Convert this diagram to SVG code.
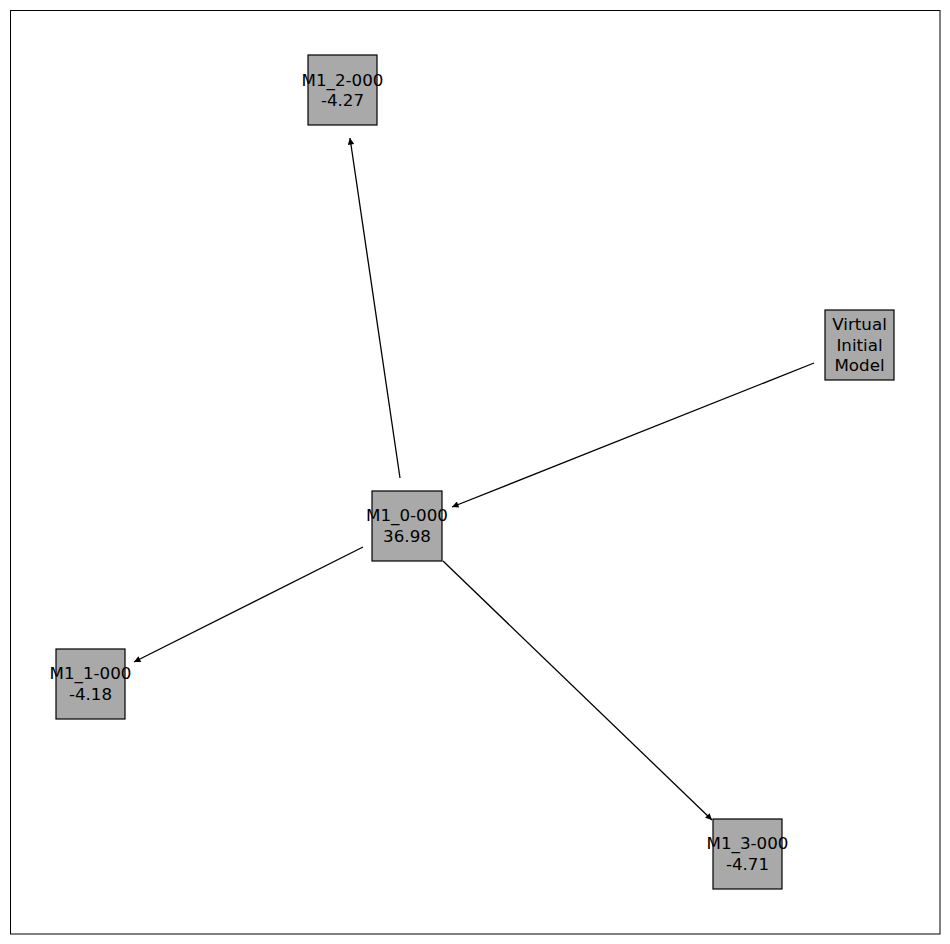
<svg xmlns="http://www.w3.org/2000/svg" width="950" height="944" viewBox="0 0 950 944">
<style>
.node rect{fill:#a9a9a9;stroke:#000;stroke-width:1.2}
.node text{font-family:"DejaVu Sans",sans-serif;font-size:16.7px;fill:#000;text-anchor:middle;dominant-baseline:central}
.edge{stroke:#000;stroke-width:1.3;fill:none;marker-end:url(#arr)}
</style>
<defs>
<marker id="arr" viewBox="0 0 10 10" refX="10" refY="5" markerWidth="9" markerHeight="6.5" markerUnits="userSpaceOnUse" orient="auto">
<path d="M0,0 L10,5 L0,10 z" fill="#000"/>
</marker>
</defs>
<rect x="0" y="0" width="950" height="944" fill="#fff"/>
<rect x="10.5" y="10.5" width="929.5" height="923.5" fill="none" stroke="#000" stroke-width="1"/>
<g id="edges">
<line class="edge" x1="400" y1="478" x2="350" y2="138"/>
<line class="edge" x1="814" y1="363" x2="452" y2="507"/>
<line class="edge" x1="363" y1="547" x2="134" y2="662"/>
<line class="edge" x1="443" y1="561" x2="712" y2="820"/>
</g>
<g id="M1_2-000" class="node">
<rect x="308" y="55" width="69" height="70"/>
<text x="342.5" y="79.5">M1_2-000</text>
<text x="342.5" y="100">-4.27</text>
</g>
<g id="M1_0-000" class="node">
<rect x="372" y="491" width="70" height="70"/>
<text x="407" y="515">M1_0-000</text>
<text x="407" y="535.5">36.98</text>
</g>
<g id="Virtual" class="node">
<rect x="825" y="310" width="69" height="70"/>
<text x="859.5" y="323.5">Virtual</text>
<text x="859.5" y="344.5">Initial</text>
<text x="859.5" y="365">Model</text>
</g>
<g id="M1_1-000" class="node">
<rect x="56" y="649" width="69" height="70"/>
<text x="90.5" y="673">M1_1-000</text>
<text x="90.5" y="693.5">-4.18</text>
</g>
<g id="M1_3-000" class="node">
<rect x="713" y="819" width="69" height="70"/>
<text x="747.5" y="843">M1_3-000</text>
<text x="747.5" y="863.5">-4.71</text>
</g>
</svg>
